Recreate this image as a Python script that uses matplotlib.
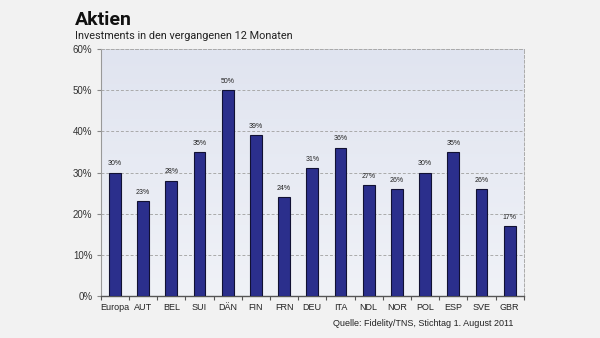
import matplotlib.pyplot as plt
import numpy as np
from matplotlib.ticker import FixedLocator, NullFormatter
from matplotlib.colors import LinearSegmentedColormap

# Anteil der Anleger mit Aktien-Investments je Land (in %)
laender = ['Europa', 'AUT', 'BEL', 'SUI', 'DÄN', 'FIN', 'FRN', 'DEU',
           'ITA', 'NDL', 'NOR', 'POL', 'ESP', 'SVE', 'GBR']
anteile = [30, 23, 28, 35, 50, 39, 24, 31, 36, 27, 26, 30, 35, 26, 17]
y_ticks = [0, 10, 20, 30, 40, 50, 60]

plt.rcParams['font.family'] = ['Liberation Sans', 'DejaVu Sans']

fig = plt.figure(figsize=(6, 3.38), dpi=100, facecolor='#f2f2f2')
ax = fig.add_axes([0.168, 0.124, 0.705, 0.731])

x = np.arange(len(laender))

# Hintergrund mit leichtem Verlauf
verlauf = np.linspace(0, 1, 256).reshape(-1, 1)
cmap = LinearSegmentedColormap.from_list('bg', ['#f0f2f7', '#e0e4f0'])
ax.imshow(verlauf, aspect='auto', cmap=cmap, origin='lower',
          extent=[-0.5, len(laender) - 0.5, 0, 60], zorder=0)

ax.bar(x, anteile, width=0.42, color='#2b2f8c', edgecolor='#111133',
       linewidth=0.8, zorder=3)

for xi, v in zip(x, anteile):
    ax.text(xi, v + 1.3, f'{v}%', ha='center', va='bottom', fontsize=5,
            color='#222222', zorder=4)

ax.set_xlim(-0.5, len(laender) - 0.5)
ax.set_ylim(0, 60)
ax.set_yticks(y_ticks)
ax.set_yticklabels([f'{t}%' for t in y_ticks], fontsize=7, color='#333333')

ax.set_xticks(x)
ax.set_xticklabels(laender, fontsize=6.5, color='#222222')
ax.tick_params(axis='x', which='major', length=0, pad=5)
ax.xaxis.set_minor_locator(FixedLocator(np.arange(-0.5, len(laender), 1)))
ax.xaxis.set_minor_formatter(NullFormatter())
ax.tick_params(axis='x', which='minor', length=3, color='#555555', width=0.8)
ax.tick_params(axis='y', length=3, color='#888888', width=0.8, pad=3)

ax.grid(axis='y', linestyle=(0, (3, 2)), color='#aaaaaa', linewidth=0.7, zorder=1)

ax.spines['left'].set_color('#999999')
ax.spines['bottom'].set_color('#555555')
ax.spines['bottom'].set_linewidth(1.0)
for s in ['top', 'right']:
    ax.spines[s].set_linestyle((0, (3, 2)))
    ax.spines[s].set_color('#aaaaaa')
    ax.spines[s].set_linewidth(0.7)

fig.text(0.125, 0.925, 'Aktien', fontsize=14, fontweight='bold',
         family=['Roboto', 'Liberation Sans'], color='#111111')
fig.text(0.125, 0.885, 'Investments in den vergangenen 12 Monaten', fontsize=7.8,
         family=['Roboto', 'Liberation Sans'], color='#222222')
fig.text(0.555, 0.035, 'Quelle: Fidelity/TNS, Stichtag 1. August 2011',
         fontsize=6.5, color='#222222')

fig.savefig('out.png', dpi=100, facecolor=fig.get_facecolor())
